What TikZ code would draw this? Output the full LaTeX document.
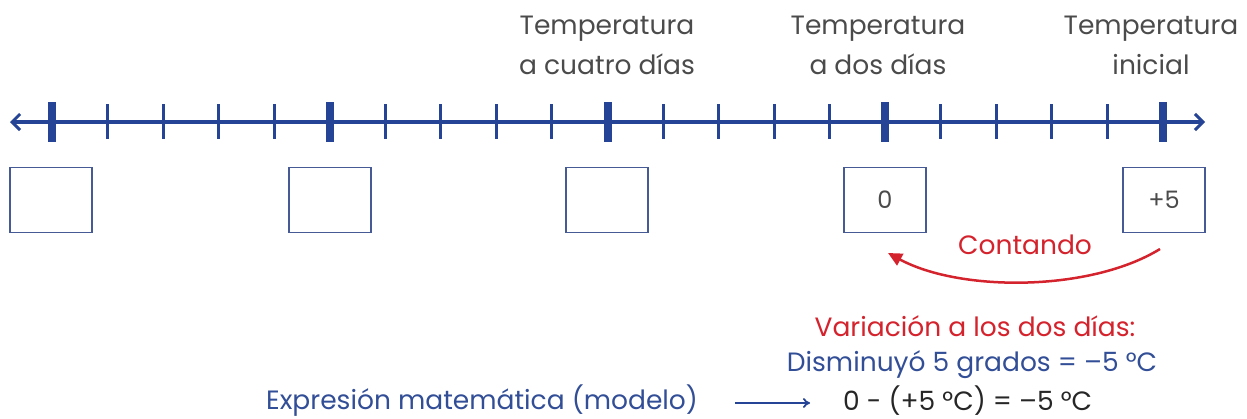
\documentclass[tikz,border=0pt]{standalone}
\usepackage{fontspec}
\setmainfont{Poppins}
\usetikzlibrary{arrows.meta}
\definecolor{axisblue}{RGB}{38,68,150}
\definecolor{boxblue}{RGB}{70,90,150}
\definecolor{txtgrey}{RGB}{75,75,75}
\definecolor{txtblue}{RGB}{50,78,150}
\definecolor{txtred}{RGB}{212,35,45}
\begin{document}
\begin{tikzpicture}[x=1pt,y=-1pt,
  lbl/.style={align=center,text=txtgrey,inner sep=0pt,font=\fontsize{26.5}{40}\selectfont},
  valbox/.style={draw=boxblue,line width=1.8pt,minimum width=82pt,minimum height=65pt,inner sep=0pt,text=txtgrey,font=\fontsize{24}{28}\selectfont},
  bottxt/.style={inner sep=0pt,font=\fontsize{26.5}{30}\selectfont},
  majortick/.style={fill=axisblue,draw=none},
  minortick/.style={draw=axisblue,line width=3pt},
  axisline/.style={draw=axisblue,line width=4pt,{Straight Barb[length=8pt,width=16pt,line width=3pt]}-{Straight Barb[length=8pt,width=16pt,line width=3pt]}},
  countarrow/.style={draw=txtred,line width=2.5pt,-{Triangle[length=14pt,width=13pt]}},
  modelarrow/.style={draw=axisblue,line width=1.8pt,-{To[length=7pt,width=10pt]}}
]
\useasboundingbox (0,0) rectangle (1247,418);
% axis
\coordinate (axL) at (10,122);
\coordinate (axR) at (1205,122);
\path[axisline] (axL) -- (axR);
\foreach \k in {0,...,20}{
  \pgfmathsetmacro{\xx}{52+55.55*\k}
  \pgfmathtruncatemacro{\m}{mod(\k,5)}
  \ifnum\m=0
    \path[majortick] (\xx-4,102) rectangle (\xx+4,142);
  \else
    \path[minortick] (\xx,104) -- (\xx,139);
  \fi
}
% labels
\node[lbl] (l4) at (607,45) {Temperatura\\a cuatro días};
\node[lbl] (l2) at (878,45) {Temperatura\\a dos días};
\node[lbl] (l0) at (1151,45) {Temperatura\\inicial};
% boxes
\node[valbox] (b1) at (51,200) {};
\node[valbox] (b2) at (330,200) {};
\node[valbox] (b3) at (607,200) {};
\node[valbox] (b4) at (885,200) {0};
\node[valbox] (b5) at (1164,200) {+5};
% counting arrow
\coordinate (cs) at (1160,249);
\coordinate (ce) at (888,253);
\path[countarrow] (cs) .. controls (1090,292) and (960,292) .. (ce);
\node[bottxt,text=txtred] (cont) at (1025,245) {Contando};
% bottom texts
\node[bottxt,text=txtred] (var) at (975,326) {Variación a los dos días:};
\node[bottxt,text=txtblue] (dis) at (972,365) {Disminuyó 5 grados = –5 °C};
\node[bottxt,text=txtblue,anchor=west] (expr) at (266,401) {Expresión matemática (modelo)};
\node[bottxt,text=black!85,anchor=west] (eq) at (843,401) {0 - (+5 °C) = –5 °C};
\coordinate (ma) at (735,403);
\coordinate (mb) at (810,403);
\path[modelarrow] (ma) -- (mb);
\end{tikzpicture}
\end{document}
